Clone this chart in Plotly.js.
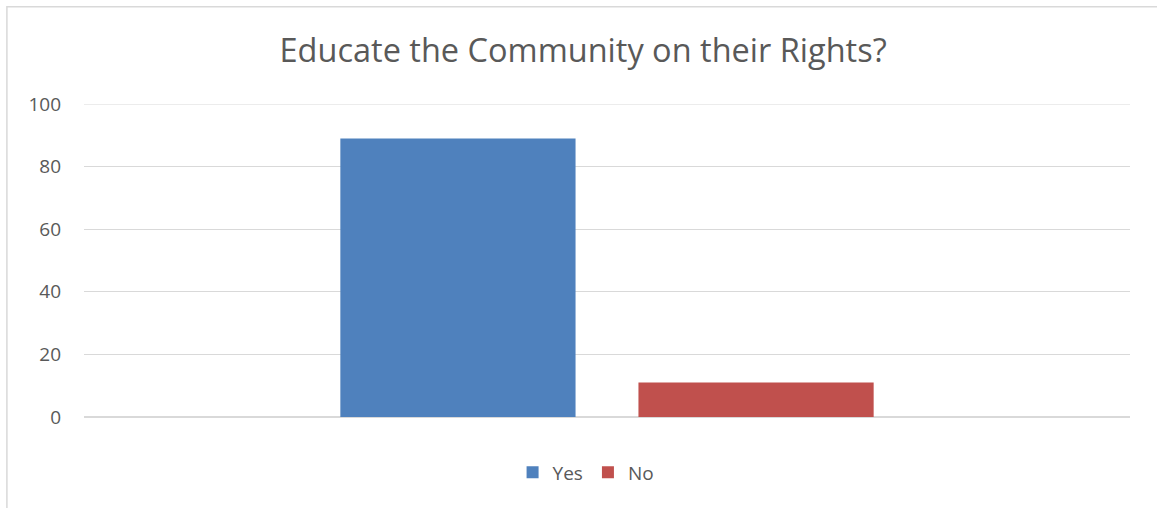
<!DOCTYPE html>
<html>
<head>
<meta charset="utf-8">
<script src="https://cdn.plot.ly/plotly-3.0.1.min.js"></script>
<style>html,body{margin:0;padding:0;background:#fff;}#chart{width:1157px;height:508px;}</style>
</head>
<body>
<div id="chart"></div>
<script>
const categories = ["Educate the Community on their Rights?"];
const seriesNames = ["Yes", "No"];
const yesValues = [89];
const noValues = [11];
const tickVals = [0, 20, 40, 60, 80, 100];
const tickText = ["0", "20", "40", "60", "80", "100"];
const colors = ["#4f81bd", "#c0504d"];
const yMax = 100;

const traces = [
  {type: "bar", name: seriesNames[0], x: categories, y: yesValues, marker: {color: colors[0]}, hoverinfo: "y"},
  {type: "bar", name: seriesNames[1], x: categories, y: noValues, marker: {color: colors[1]}, hoverinfo: "y"}
];

const font = "Open Sans, Noto Sans, sans-serif";
const layout = {
  width: 1157, height: 508,
  paper_bgcolor: "#fff", plot_bgcolor: "#fff",
  margin: {l: 84, r: 27, t: 104, b: 91},
  title: {text: "Educate the Community on their Rights?", x: 0.504, xanchor: "center", y: 0.9, yanchor: "middle",
          font: {family: font, size: 32.5, color: "#595959"}},
  barmode: "group", bargap: 0.43, bargroupgap: 0.211,
  xaxis: {showticklabels: false, showgrid: false, zeroline: false, showline: false, ticks: "", fixedrange: true},
  yaxis: {range: [0, yMax], tickvals: tickVals, ticktext: tickText, showgrid: true, gridcolor: "#d9d9d9", gridwidth: 1,
          zeroline: true, zerolinecolor: "#d9d9d9", zerolinewidth: 1.5, showline: false, ticks: "", ticklabelstandoff: 22,
          tickfont: {family: font, size: 19, color: "#595959"}, fixedrange: true},
  showlegend: true,
  legend: {orientation: "h", x: 0.48, xanchor: "center", y: 0.07, yanchor: "middle", yref: "container",
           font: {family: font, size: 19, color: "#595959"}, itemwidth: 30, traceorder: "normal"},
  shapes: [
    {type: "rect", xref: "paper", yref: "paper", x0: -0.0737, x1: 1.05, y0: -0.5, y1: 1.3104,
     line: {color: "#d9d9d9", width: 1.5}, fillcolor: "rgba(0,0,0,0)", layer: "below"},
    {type: "line", xref: "paper", yref: "y", x0: 0, x1: 1, y0: yMax, y1: yMax,
     line: {color: "#d9d9d9", width: 1}, layer: "below"}
  ]
};
Plotly.newPlot("chart", traces, layout, {displayModeBar: false, staticPlot: true});
</script>
</body>
</html>
